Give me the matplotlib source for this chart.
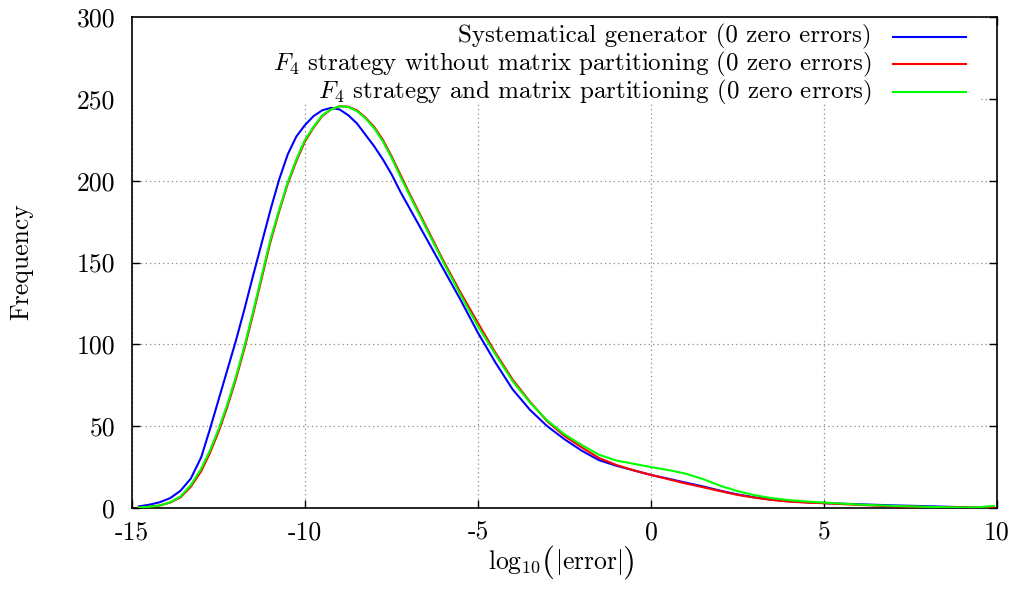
import numpy as np
import matplotlib
matplotlib.use("Agg")
import matplotlib.pyplot as plt
from matplotlib.patches import Rectangle

plt.rcParams["font.family"] = "cmr10"
plt.rcParams["mathtext.fontset"] = "cm"
plt.rcParams["axes.unicode_minus"] = False
FS = 18.5
plt.rcParams["font.size"] = FS

x_vals = [-14.8, -14.5, -14.2, -13.9, -13.6, -13.3, -13.0, -12.75, -12.5, -12.25,
          -12.0, -11.75, -11.5, -11.25, -11.0, -10.75, -10.5, -10.25, -10.0, -9.75,
          -9.5, -9.25, -9.0, -8.75, -8.5, -8.25, -8.0, -7.75, -7.5, -7.25,
          -7.0, -6.5, -6.0, -5.5, -5.0, -4.5, -4.0, -3.5, -3.0, -2.5,
          -2.0, -1.5, -1.0, -0.5, 0.0, 0.5, 1.0, 1.5, 2.0, 2.5,
          3.0, 3.5, 4.0, 4.5, 5.0, 6.0, 7.0, 8.0, 9.0, 9.5, 9.9]

systematic = [1.0, 2.0, 3.5, 6.0, 10.5, 18.0, 31.0, 48.0, 66.0, 84.0,
              102.0, 121.5, 142.0, 162.0, 182.0, 200.5, 216.0, 227.0, 234.0, 239.5,
              243.0, 244.5, 243.5, 240.0, 235.0, 228.0, 221.0, 213.0, 204.0, 193.5,
              184.0, 165.0, 146.0, 127.0, 107.0, 89.0, 72.5, 60.0, 50.0, 42.0,
              35.0, 29.2, 25.8, 23.0, 20.2, 17.9, 15.5, 13.2, 10.6, 8.3,
              6.5, 5.1, 4.1, 3.5, 3.0, 2.3, 1.6, 1.1, 0.5, 0.3, 0.2]

f4_no_partition = [0.3, 0.8, 1.5, 3.3, 6.5, 13.0, 22.5, 33.5, 46.5, 61.5,
                   78.5, 97.5, 118.5, 140.5, 162.5, 181.0, 198.0, 212.0, 224.0, 232.5,
                   239.5, 243.5, 245.5, 245.2, 243.0, 238.5, 232.8, 225.0, 215.0, 204.0,
                   193.0, 172.0, 151.0, 131.5, 113.0, 95.0, 78.5, 65.0, 53.0, 44.0,
                   37.0, 30.5, 26.3, 23.0, 20.2, 17.6, 15.0, 12.7, 10.3, 8.0,
                   6.3, 4.9, 3.9, 3.3, 2.9, 1.9, 1.0, 0.6, 0.4, 0.4, 0.6]

f4_partition = [0.3, 0.8, 1.5, 3.5, 7.0, 14.0, 24.0, 35.0, 48.0, 63.0,
                80.0, 99.0, 120.0, 142.0, 164.0, 182.0, 199.0, 213.0, 225.0, 233.0,
                240.0, 243.5, 245.5, 245.0, 242.5, 238.0, 232.0, 224.0, 214.0, 202.8,
                192.0, 171.0, 150.0, 130.0, 111.0, 94.0, 77.5, 64.5, 53.5, 45.0,
                38.5, 32.5, 29.0, 27.0, 25.0, 23.2, 21.0, 17.7, 13.6, 10.3,
                7.8, 6.0, 4.8, 4.0, 3.3, 2.1, 1.3, 0.7, 0.3, 0.5, 1.3]

series = [
    (systematic, "#0000ff", "Systematical generator (0 zero errors)"),
    (f4_no_partition, "#ff0000", "$F_4$ strategy without matrix partitioning (0 zero errors)"),
    (f4_partition, "#00ff00", "$F_4$ strategy and matrix partitioning (0 zero errors)"),
]

x_ticks = [-15, -10, -5, 0, 5, 10]
y_ticks = [0, 50, 100, 150, 200, 250, 300]

W, H = 1017, 599
fig = plt.figure(figsize=(W / 100, H / 100), dpi=100)
ax = fig.add_axes([132 / W, 1 - 508 / H, 865 / W, 491 / H])

ax.set_xlim(-15, 10)
ax.set_ylim(0, 300)
ax.set_xticks(x_ticks)
ax.set_xticklabels([str(t) for t in x_ticks])
ax.set_yticks(y_ticks)
ax.set_yticklabels([str(t) for t in y_ticks])
ax.tick_params(direction="in", length=6, width=1, top=True, right=True, pad=12)
ax.tick_params(axis="x", pad=9)
ax.grid(True, color="#888888", linestyle=(0, (1, 2.5)), linewidth=0.9)
ax.set_axisbelow(True)
for sp in ax.spines.values():
    sp.set_linewidth(1.2)

# white key box hides the grid under the legend, like gnuplot
ax.add_patch(Rectangle((0, 0.825), 0.98, 0.175, transform=ax.transAxes,
                       facecolor="white", edgecolor="none", zorder=1.5))

for vals, col, lab in series:
    ax.plot(x_vals, vals, color=col, linewidth=1.5, zorder=3)

rows = [0.960, 0.904, 0.847]
for (vals, col, lab), ry in zip(series, rows):
    ax.text(0.855, ry, lab, transform=ax.transAxes, ha="right", va="center",
            fontsize=18, zorder=4)
    ax.plot([0.880, 0.964], [ry, ry], transform=ax.transAxes, color=col,
            linewidth=1.5, zorder=4, clip_on=False)

fig.text(21 / W, 1 - 262 / H, "Frequency", rotation=90, ha="center", va="center")

# x label built from pieces so the parentheses come out taller
pieces = [(r"$\log_{10}$", FS), (r"$($", FS * 1.3), (r"$|\mathrm{error}|$", FS), (r"$)$", FS * 1.3)]
texts = [fig.text(0, 1 - 569 / H, s, fontsize=size, ha="left", va="baseline") for s, size in pieces]
fig.canvas.draw()
renderer = fig.canvas.get_renderer()
widths = [t.get_window_extent(renderer).width for t in texts]
xpos = 561 - sum(widths) / 2
for t, w in zip(texts, widths):
    t.set_x(xpos / W)
    xpos += w
texts[1].set_y(1 - 571 / H)
texts[3].set_y(1 - 571 / H)

fig.savefig("out.png", dpi=100)
